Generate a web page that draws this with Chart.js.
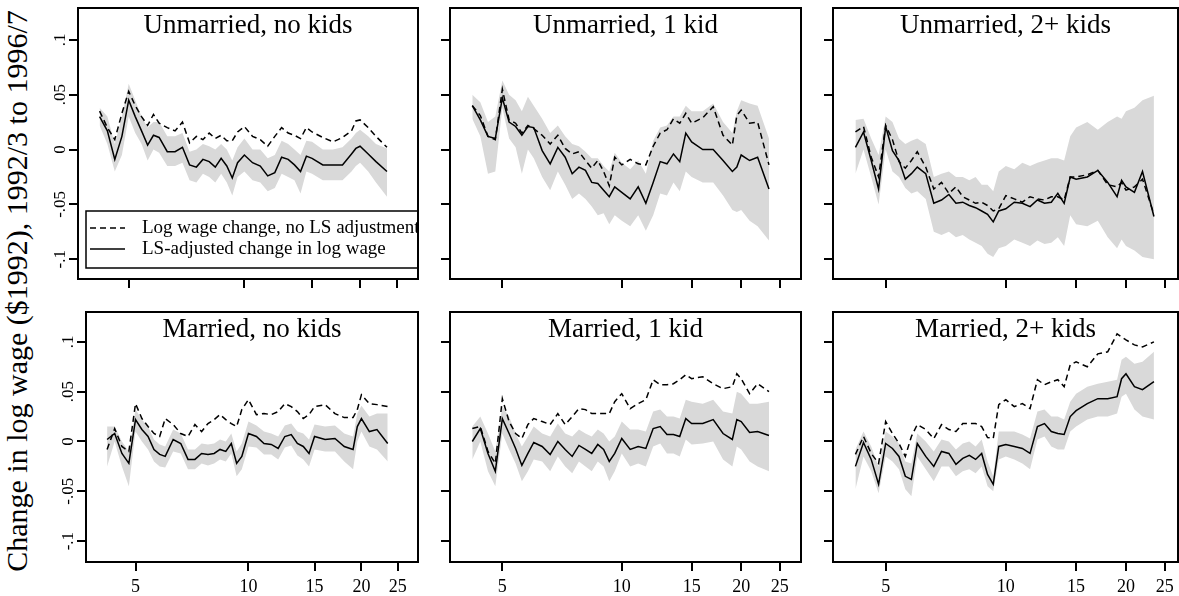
<!DOCTYPE html>
<html>
<head>
<meta charset="utf-8">
<script src="https://cdn.jsdelivr.net/npm/chart.js@4.4.1/dist/chart.umd.min.js"></script>
<style>
  body { margin: 0; width: 1179px; height: 596px; overflow: hidden; background: #fff; position: relative; }
  canvas { position: absolute; }
  #ytitle {
    position: absolute; left: -283px; top: 276px; width: 600px; height: 30px;
    line-height: 30px; font-size: 30px; text-align: center; white-space: nowrap;
    font-family: "Liberation Serif", "Times New Roman", serif; color: #000;
    transform: rotate(-90deg);
  }
</style>
</head>
<body>
<div id="ytitle">Change in log wage ($1992), 1992/3 to 1996/7</div>
<script>
// x positions shared by every panel
var xValues = [4.2, 4.4, 4.6, 4.8, 5.0, 5.2, 5.4, 5.6, 5.8, 6.0, 6.3, 6.6, 6.9, 7.2, 7.5, 7.8, 8.1, 8.4, 8.7, 9.0, 9.3,
  9.6, 10, 10.5, 11, 11.5, 12, 12.5, 13, 13.5, 14, 14.5, 15, 16, 17, 18, 19, 19.5, 20, 21, 22, 23.5];

var xTicks = [5, 10, 15, 20, 25];
var yTicks = [-0.1, -0.05, 0, 0.05, 0.1];
var yTickLabels = ['-.1', '-.05', '0', '.05', '.1'];
var legendLabels = ['Log wage change, no LS adjustment', 'LS-adjusted change in log wage'];

// Unmarried, no kids
var unmNoKidsAdj = [0.030, 0.017, -0.009, 0.012, 0.045, 0.030, 0.017, 0.004, 0.013, 0.011, -0.002, -0.002, 0.002, -0.014, -0.016, -0.009, -0.011, -0.016, -0.008, -0.015,
  -0.026, -0.012, -0.005, -0.012, -0.015, -0.024, -0.021, -0.007, -0.009, -0.014, -0.020, -0.006, -0.008, -0.014, -0.014, -0.014, -0.004, 0.001, 0.003, -0.004, -0.011, -0.020];
var unmNoKidsRaw = [0.035, 0.020, 0.009, 0.033, 0.053, 0.040, 0.030, 0.022, 0.032, 0.024, 0.020, 0.017, 0.025, 0.006, 0.012, 0.009, 0.015, 0.010, 0.013, 0.008,
  0.008, 0.016, 0.021, 0.012, 0.009, 0.003, 0.012, 0.020, 0.015, 0.013, 0.010, 0.020, 0.016, 0.011, 0.007, 0.011, 0.017, 0.026, 0.027, 0.020, 0.012, 0.002];
var unmNoKidsHi = [0.038, 0.030, 0.005, 0.030, 0.060, 0.045, 0.030, 0.020, 0.025, 0.025, 0.012, 0.012, 0.015, -0.002, 0.000, 0.005, 0.003, 0.000, 0.005, 0.000,
  -0.010, 0.002, 0.010, 0.000, 0.000, -0.008, -0.005, 0.008, 0.005, 0.000, -0.005, 0.008, 0.007, 0.000, 0.000, 0.002, 0.010, 0.015, 0.018, 0.012, 0.005, 0.001];
var unmNoKidsLo = [0.022, 0.005, -0.020, -0.005, 0.030, 0.015, 0.005, -0.010, 0.000, -0.003, -0.015, -0.015, -0.012, -0.028, -0.030, -0.022, -0.025, -0.030, -0.022, -0.030,
  -0.042, -0.025, -0.020, -0.028, -0.030, -0.038, -0.035, -0.022, -0.025, -0.028, -0.040, -0.020, -0.022, -0.028, -0.028, -0.028, -0.020, -0.015, -0.012, -0.020, -0.030, -0.043];

// Unmarried, 1 kid
var unmOneKidAdj = [0.040, 0.027, 0.012, 0.010, 0.047, 0.025, 0.021, 0.013, 0.021, 0.020, -0.001, -0.013, 0.002, -0.007, -0.022, -0.016, -0.019, -0.030, -0.031, -0.037,
  -0.043, -0.034, -0.039, -0.045, -0.034, -0.049, -0.030, -0.011, -0.013, -0.004, -0.011, 0.015, 0.007, 0.000, 0.000, -0.010, -0.020, -0.016, -0.005, -0.010, -0.007, -0.036];
var unmOneKidRaw = [0.040, 0.031, 0.012, 0.009, 0.055, 0.027, 0.024, 0.015, 0.022, 0.019, 0.013, 0.005, 0.013, 0.001, -0.004, -0.002, -0.010, -0.017, -0.010, -0.020,
  -0.033, -0.007, -0.014, -0.009, -0.013, -0.014, 0.003, 0.015, 0.018, 0.028, 0.024, 0.033, 0.024, 0.029, 0.039, 0.013, 0.004, 0.031, 0.036, 0.024, 0.025, -0.014];
var unmOneKidHi = [0.050, 0.043, 0.025, 0.030, 0.063, 0.050, 0.045, 0.035, 0.048, 0.040, 0.028, 0.015, 0.022, 0.012, 0.005, 0.003, -0.002, -0.008, -0.008, -0.015,
  -0.020, -0.003, -0.012, -0.018, -0.010, -0.022, 0.008, 0.020, 0.022, 0.030, 0.030, 0.040, 0.035, 0.035, 0.042, 0.025, 0.015, 0.035, 0.045, 0.042, 0.040, 0.010];
var unmOneKidLo = [0.028, 0.012, -0.022, -0.020, 0.038, 0.010, 0.002, -0.022, 0.000, -0.008, -0.025, -0.037, -0.020, -0.032, -0.045, -0.040, -0.045, -0.052, -0.060, -0.058,
  -0.068, -0.060, -0.065, -0.070, -0.060, -0.074, -0.060, -0.040, -0.042, -0.030, -0.038, -0.020, -0.025, -0.030, -0.030, -0.042, -0.055, -0.057, -0.055, -0.065, -0.070, -0.083];

// Unmarried, 2+ kids
var unmTwoKidsAdj = [0.002, 0.016, -0.010, -0.036, 0.021, -0.001, -0.010, -0.027, -0.022, -0.016, -0.022, -0.049, -0.046, -0.041, -0.049, -0.048, -0.051, -0.053, -0.056, -0.059,
  -0.066, -0.056, -0.054, -0.048, -0.049, -0.052, -0.046, -0.049, -0.048, -0.040, -0.049, -0.025, -0.027, -0.025, -0.019, -0.030, -0.043, -0.028, -0.034, -0.039, -0.020, -0.061];
var unmTwoKidsRaw = [0.016, 0.021, -0.007, -0.025, 0.022, 0.009, -0.011, -0.017, -0.010, -0.002, -0.016, -0.036, -0.030, -0.040, -0.034, -0.043, -0.046, -0.049, -0.048, -0.051,
  -0.056, -0.054, -0.042, -0.045, -0.048, -0.043, -0.045, -0.046, -0.043, -0.043, -0.046, -0.025, -0.025, -0.023, -0.019, -0.032, -0.034, -0.030, -0.037, -0.034, -0.027, -0.059];
var unmTwoKidsHi = [0.027, 0.028, 0.010, -0.005, 0.030, 0.025, 0.010, 0.005, 0.008, 0.010, 0.005, -0.025, -0.022, -0.020, -0.025, -0.025, -0.028, -0.025, -0.032, -0.032,
  -0.038, -0.020, -0.015, -0.018, -0.012, -0.015, -0.012, -0.010, -0.008, -0.008, -0.010, 0.012, 0.020, 0.025, 0.018, 0.025, 0.030, 0.028, 0.035, 0.038, 0.045, 0.049];
var unmTwoKidsLo = [-0.022, 0.000, -0.025, -0.050, 0.000, -0.020, -0.025, -0.035, -0.040, -0.038, -0.045, -0.075, -0.078, -0.075, -0.080, -0.078, -0.082, -0.085, -0.088, -0.095,
  -0.098, -0.090, -0.088, -0.082, -0.085, -0.088, -0.083, -0.086, -0.085, -0.080, -0.088, -0.060, -0.068, -0.070, -0.065, -0.080, -0.090, -0.082, -0.088, -0.092, -0.098, -0.100];

// Married, no kids
var marNoKidsAdj = [0.002, 0.008, -0.012, -0.022, 0.022, 0.012, 0.005, -0.008, -0.013, -0.015, 0.002, -0.002, -0.018, -0.018, -0.012, -0.013, -0.012, -0.008, -0.010, -0.002,
  -0.022, -0.015, 0.008, 0.005, -0.002, -0.003, -0.007, 0.005, 0.007, -0.002, -0.005, -0.012, 0.005, 0.002, 0.003, -0.005, -0.008, 0.015, 0.023, 0.010, 0.012, -0.002];
var marNoKidsRaw = [-0.008, 0.013, -0.005, -0.010, 0.038, 0.023, 0.015, 0.008, 0.005, 0.023, 0.017, 0.008, 0.005, 0.017, 0.010, 0.018, 0.022, 0.027, 0.022, 0.018,
  0.015, 0.032, 0.042, 0.027, 0.028, 0.027, 0.030, 0.038, 0.035, 0.030, 0.023, 0.027, 0.035, 0.037, 0.028, 0.024, 0.024, 0.032, 0.047, 0.038, 0.037, 0.035];
var marNoKidsHi = [0.015, 0.015, 0.000, -0.010, 0.032, 0.022, 0.015, 0.002, -0.003, -0.005, 0.012, 0.008, -0.008, -0.008, -0.002, -0.003, -0.002, 0.002, 0.000, 0.008,
  -0.010, -0.002, 0.020, 0.016, 0.010, 0.008, 0.005, 0.016, 0.018, 0.010, 0.008, 0.002, 0.017, 0.015, 0.016, 0.008, 0.005, 0.028, 0.036, 0.025, 0.028, 0.028];
var marNoKidsLo = [-0.025, 0.000, -0.025, -0.045, 0.010, 0.000, -0.008, -0.020, -0.025, -0.026, -0.010, -0.012, -0.028, -0.028, -0.022, -0.024, -0.022, -0.018, -0.020, -0.012,
  -0.035, -0.028, -0.005, -0.006, -0.013, -0.013, -0.018, -0.006, -0.004, -0.014, -0.018, -0.025, -0.008, -0.010, -0.010, -0.020, -0.028, 0.000, 0.010, -0.005, -0.008, -0.020];

// Married, 1 kid
var marOneKidAdj = [0.000, 0.013, -0.012, -0.030, 0.023, 0.008, -0.007, -0.024, -0.012, -0.001, -0.005, -0.013, 0.000, -0.008, -0.015, -0.004, -0.008, -0.012, -0.003, -0.008,
  -0.020, -0.012, 0.003, -0.008, -0.005, -0.007, 0.013, 0.015, 0.007, 0.007, 0.005, 0.023, 0.018, 0.018, 0.022, 0.008, 0.002, 0.022, 0.020, 0.009, 0.010, 0.006];
var marOneKidRaw = [0.013, 0.015, -0.010, -0.022, 0.043, 0.020, 0.008, 0.003, 0.017, 0.023, 0.020, 0.017, 0.028, 0.017, 0.025, 0.033, 0.032, 0.028, 0.028, 0.028,
  0.028, 0.040, 0.048, 0.033, 0.038, 0.042, 0.062, 0.057, 0.057, 0.058, 0.062, 0.067, 0.063, 0.065, 0.058, 0.053, 0.055, 0.068, 0.063, 0.048, 0.058, 0.050];
var marOneKidHi = [0.015, 0.025, 0.008, -0.010, 0.035, 0.025, 0.008, -0.005, 0.005, 0.015, 0.008, 0.005, 0.018, 0.008, 0.005, 0.012, 0.008, 0.005, 0.012, 0.008,
  0.000, 0.005, 0.020, 0.012, 0.012, 0.010, 0.030, 0.032, 0.025, 0.025, 0.023, 0.042, 0.040, 0.038, 0.042, 0.030, 0.028, 0.050, 0.048, 0.038, 0.038, 0.040];
var marOneKidLo = [-0.018, 0.000, -0.030, -0.045, 0.008, -0.008, -0.022, -0.040, -0.030, -0.018, -0.020, -0.030, -0.015, -0.025, -0.032, -0.020, -0.025, -0.030, -0.020, -0.025,
  -0.040, -0.030, -0.012, -0.025, -0.022, -0.025, -0.005, -0.002, -0.012, -0.012, -0.015, 0.002, -0.003, -0.002, 0.000, -0.018, -0.025, -0.005, -0.008, -0.020, -0.025, -0.030];

// Married, 2+ kids
var marTwoKidsAdj = [-0.025, -0.001, -0.018, -0.043, -0.002, -0.007, -0.015, -0.035, -0.038, -0.002, -0.015, -0.025, -0.010, -0.012, -0.023, -0.017, -0.014, -0.018, -0.012, -0.033,
  -0.043, -0.005, -0.003, -0.005, -0.007, -0.012, 0.015, 0.018, 0.010, 0.008, 0.007, 0.025, 0.031, 0.038, 0.043, 0.043, 0.045, 0.063, 0.068, 0.055, 0.052, 0.060];
var marTwoKidsRaw = [-0.013, 0.005, -0.012, -0.022, 0.020, 0.008, -0.002, -0.015, 0.005, 0.017, 0.012, 0.003, 0.017, 0.012, 0.010, 0.018, 0.018, 0.018, 0.015, 0.004,
  0.003, 0.037, 0.042, 0.035, 0.038, 0.033, 0.062, 0.057, 0.060, 0.062, 0.055, 0.077, 0.080, 0.075, 0.088, 0.090, 0.108, 0.105, 0.102, 0.097, 0.095, 0.100];
var marTwoKidsHi = [-0.008, 0.010, -0.005, -0.025, 0.010, 0.005, -0.002, -0.020, -0.022, 0.008, 0.000, -0.010, 0.002, 0.000, -0.008, -0.002, 0.000, -0.005, 0.002, -0.020,
  -0.035, 0.010, 0.010, 0.010, 0.007, 0.003, 0.030, 0.032, 0.025, 0.025, 0.022, 0.040, 0.048, 0.055, 0.058, 0.060, 0.062, 0.082, 0.085, 0.078, 0.080, 0.090];
var marTwoKidsLo = [-0.048, -0.015, -0.030, -0.052, -0.015, -0.020, -0.028, -0.048, -0.055, -0.015, -0.028, -0.040, -0.025, -0.025, -0.035, -0.030, -0.028, -0.032, -0.025, -0.045,
  -0.050, -0.018, -0.015, -0.018, -0.022, -0.028, 0.002, 0.005, -0.005, -0.008, -0.008, 0.010, 0.015, 0.022, 0.025, 0.025, 0.028, 0.045, 0.048, 0.032, 0.025, 0.022];

var FONT = '"Liberation Serif", "Times New Roman", serif';
var AXIS_W = 50, AXIS_H = 40, PAD_T = 2, PAD_R = 4;

// frame = [left, top, right, bottom] of each plot region
var panels = [
  { title: 'Unmarried, no kids', adj: unmNoKidsAdj, raw: unmNoKidsRaw, hi: unmNoKidsHi, lo: unmNoKidsLo,
    frame: [78, 8, 418, 279], xMax: 28.3, yMin: -0.118, yMax: 0.129, xLabels: false, yLabels: true, legend: true },
  { title: 'Unmarried, 1 kid', adj: unmOneKidAdj, raw: unmOneKidRaw, hi: unmOneKidHi, lo: unmOneKidLo,
    frame: [450, 8, 801, 279], xMax: 28.3, yMin: -0.118, yMax: 0.129, xLabels: false, yLabels: false },
  { title: 'Unmarried, 2+ kids', adj: unmTwoKidsAdj, raw: unmTwoKidsRaw, hi: unmTwoKidsHi, lo: unmTwoKidsLo,
    frame: [833, 8, 1178, 279], xMax: 27.0, yMin: -0.118, yMax: 0.129, xLabels: false, yLabels: false },
  { title: 'Married, no kids', adj: marNoKidsAdj, raw: marNoKidsRaw, hi: marNoKidsHi, lo: marNoKidsLo,
    frame: [86, 312, 418, 562], xMax: 28.3, yMin: -0.121, yMax: 0.130, xLabels: true, yLabels: true },
  { title: 'Married, 1 kid', adj: marOneKidAdj, raw: marOneKidRaw, hi: marOneKidHi, lo: marOneKidLo,
    frame: [450, 312, 801, 562], xMax: 28.3, yMin: -0.121, yMax: 0.130, xLabels: true, yLabels: false },
  { title: 'Married, 2+ kids', adj: marTwoKidsAdj, raw: marTwoKidsRaw, hi: marTwoKidsHi, lo: marTwoKidsLo,
    frame: [833, 312, 1178, 562], xMax: 27.0, yMin: -0.121, yMax: 0.130, xLabels: true, yLabels: false }
];

function pts(arr) {
  return arr.map(function (v, i) { return { x: xValues[i], y: v }; });
}

// frame, panel title, rotated y labels and legend
var panelDecor = {
  id: 'panelDecor',
  afterDraw: function (chart, args, opts) {
    var p = opts.panel;
    var a = chart.chartArea;
    var ctx = chart.ctx;
    ctx.save();
    ctx.strokeStyle = '#000';
    ctx.lineWidth = 2;
    ctx.strokeRect(a.left, a.top, a.right - a.left, a.bottom - a.top);

    ctx.fillStyle = '#000';
    ctx.font = '27px ' + FONT;
    ctx.textAlign = 'center';
    ctx.textBaseline = 'alphabetic';
    ctx.fillText(p.title, (a.left + a.right) / 2, a.top + 25);

    if (p.yLabels) {
      ctx.font = '17px ' + FONT;
      yTicks.forEach(function (v, i) {
        var y = chart.scales.y.getPixelForValue(v);
        ctx.save();
        ctx.translate(a.left - 9, y);
        ctx.rotate(-Math.PI / 2);
        ctx.textAlign = 'center';
        ctx.textBaseline = 'bottom';
        ctx.fillText(yTickLabels[i], 0, 0);
        ctx.restore();
      });
    }

    if (p.legend) {
      ctx.beginPath();
      ctx.rect(a.left, a.top, a.right - a.left - 1, a.bottom - a.top);
      ctx.clip();
      var bx = a.left + 8, by = a.bottom - 68;
      ctx.fillStyle = '#fff';
      ctx.fillRect(bx, by, 400, 57);
      ctx.lineWidth = 1.5;
      ctx.strokeRect(bx, by, 400, 57);
      ctx.setLineDash([6, 4]);
      ctx.beginPath(); ctx.moveTo(bx + 4, by + 17); ctx.lineTo(bx + 39, by + 17); ctx.stroke();
      ctx.setLineDash([]);
      ctx.beginPath(); ctx.moveTo(bx + 4, by + 38); ctx.lineTo(bx + 39, by + 38); ctx.stroke();
      ctx.fillStyle = '#000';
      ctx.font = '19px ' + FONT;
      ctx.textAlign = 'left';
      ctx.textBaseline = 'middle';
      ctx.fillText(legendLabels[0], bx + 56, by + 17);
      ctx.fillText(legendLabels[1], bx + 56, by + 38);
    }
    ctx.restore();
  }
};

panels.forEach(function (p) {
  var f = p.frame;
  var canvas = document.createElement('canvas');
  canvas.width = (f[2] - f[0]) + AXIS_W + PAD_R;
  canvas.height = (f[3] - f[1]) + PAD_T + AXIS_H;
  canvas.style.left = (f[0] - AXIS_W) + 'px';
  canvas.style.top = (f[1] - PAD_T) + 'px';
  document.body.appendChild(canvas);

  new Chart(canvas, {
    type: 'line',
    data: {
      datasets: [
        { data: pts(p.lo), borderColor: 'rgba(0,0,0,0)', borderWidth: 0, pointRadius: 0, fill: false, order: 3 },
        { data: pts(p.hi), borderColor: 'rgba(0,0,0,0)', borderWidth: 0, pointRadius: 0, fill: '-1', backgroundColor: '#d9d9d9', order: 3 },
        { data: pts(p.raw), borderColor: '#000', borderWidth: 1.5, borderDash: [6, 4], pointRadius: 0, fill: false, order: 2 },
        { data: pts(p.adj), borderColor: '#000', borderWidth: 1.5, pointRadius: 0, fill: false, order: 1 }
      ]
    },
    options: {
      responsive: false,
      animation: false,
      layout: { padding: { top: PAD_T, right: PAD_R, left: 0, bottom: 0 } },
      elements: { line: { tension: 0 } },
      scales: {
        x: {
          type: 'logarithmic',
          min: 3.69,
          max: p.xMax,
          afterBuildTicks: function (s) { s.ticks = xTicks.map(function (v) { return { value: v }; }); },
          afterFit: function (s) { s.height = AXIS_H; },
          ticks: {
            display: p.xLabels, autoSkip: false, maxRotation: 0, padding: 5, color: '#000',
            font: { family: FONT, size: 18 },
            callback: function (v) { return String(v); }
          },
          grid: { drawOnChartArea: false, drawTicks: true, tickLength: 9, color: '#000', lineWidth: 2, tickWidth: 2 },
          border: { display: false }
        },
        y: {
          type: 'linear',
          min: p.yMin,
          max: p.yMax,
          afterBuildTicks: function (s) { s.ticks = yTicks.map(function (v) { return { value: v }; }); },
          afterFit: function (s) { s.width = AXIS_W; },
          ticks: { display: false },
          grid: { drawOnChartArea: false, drawTicks: true, tickLength: 9, color: '#000', lineWidth: 2, tickWidth: 2 },
          border: { display: false }
        }
      },
      plugins: {
        legend: { display: false },
        tooltip: { enabled: false },
        panelDecor: { panel: p }
      }
    },
    plugins: [panelDecor]
  });
});
</script>
</body>
</html>
